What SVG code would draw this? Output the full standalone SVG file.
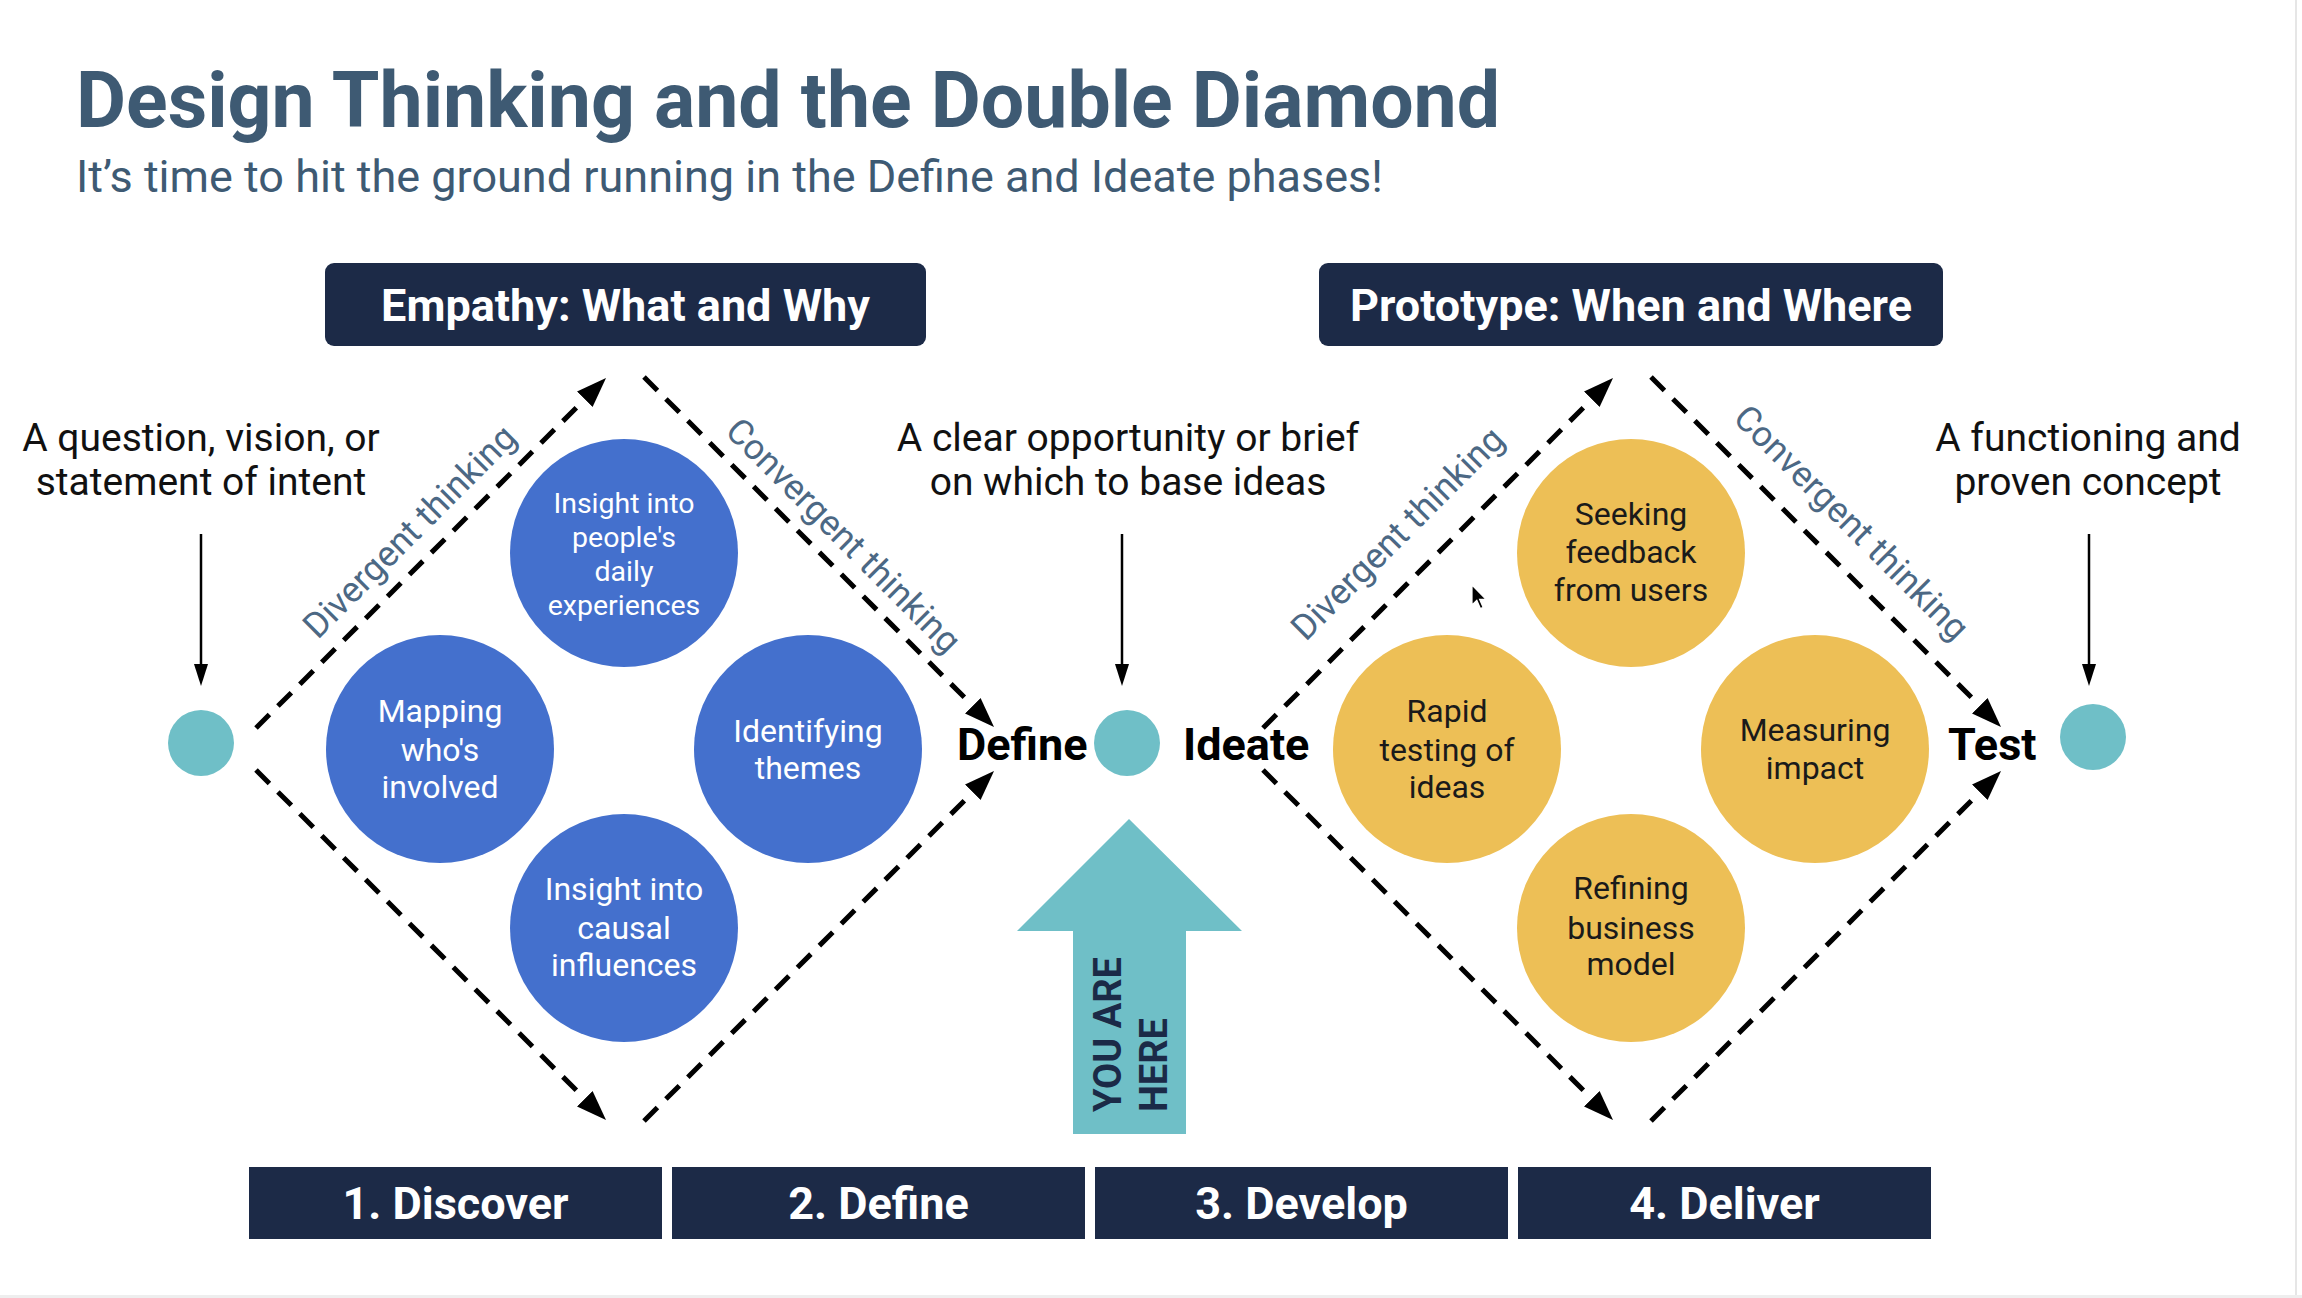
<svg xmlns="http://www.w3.org/2000/svg" width="2302" height="1298" viewBox="0 0 2302 1298">
<style>
  text { font-family: Roboto, "Liberation Sans", Arial, sans-serif; }
  .title { font-size: 77px; font-weight: 700; fill: #3e5a73; }
  .subtitle { font-size: 45px; font-weight: 400; fill: #3e5a73; }
  .hdr { fill: #1c2a47; }
  .hdrtxt { font-size: 45px; font-weight: 700; fill: #ffffff; text-anchor: middle; }
  .note { font-size: 39px; font-weight: 400; fill: #111111; text-anchor: middle; }
  .dash { fill: none; stroke: #000000; stroke-width: 5; stroke-dasharray: 19 12; marker-end: url(#ah); }
  .vline { stroke: #000000; stroke-width: 2.5; marker-end: url(#ahs); }
  .blue { fill: #4470cd; }
  .yellow { fill: #edbf56; }
  .teal { fill: #6fbfc7; }
  .btxt { font-size: 32px; fill: #ffffff; text-anchor: middle; }
  .btxt-s { font-size: 28.5px; fill: #ffffff; text-anchor: middle; }
  .ytxt { font-size: 32px; fill: #1a1a1a; text-anchor: middle; }
  .stage { font-size: 45px; font-weight: 700; fill: #000000; }
  .think { font-size: 35.5px; fill: #4c6884; text-anchor: middle; }
  .here { font-size: 38px; font-weight: 700; fill: #1b2a47; }
</style>
<defs>
  <marker id="ah" markerUnits="userSpaceOnUse" markerWidth="32" markerHeight="24" refX="0" refY="11" orient="auto">
    <path d="M0,0 L30,11 L0,22 z" fill="#000000"/>
  </marker>
  <marker id="ahs" markerUnits="userSpaceOnUse" markerWidth="24" markerHeight="16" refX="0" refY="7" orient="auto">
    <path d="M0,0 L22,7 L0,14 z" fill="#000000"/>
  </marker>
</defs>

<rect x="0" y="0" width="2302" height="1298" fill="#ffffff"/>
<line x1="2296" y1="0" x2="2296" y2="1295" stroke="#e6e6e6" stroke-width="2"/>
<rect x="0" y="1295" width="2302" height="3" fill="#eeeeee"/>

<g id="title">
  <text class="title" x="76" y="127">Design Thinking and the Double Diamond</text>
  <text class="subtitle" x="76" y="192">It’s time to hit the ground running in the Define and Ideate phases!</text>
</g>

<g id="hdr-empathy">
  <rect class="hdr" x="325" y="263" width="601" height="83" rx="9"/>
  <text class="hdrtxt" x="625.5" y="321">Empathy: What and Why</text>
</g>
<g id="hdr-prototype">
  <rect class="hdr" x="1319" y="263" width="624" height="83" rx="9"/>
  <text class="hdrtxt" x="1631" y="321">Prototype: When and Where</text>
</g>

<g id="connectors">
  <line class="dash" x1="256" y1="728" x2="584.8" y2="399.2"/>
  <line class="dash" x1="644" y1="377" x2="972.8" y2="705.8"/>
  <line class="dash" x1="256" y1="770" x2="584.8" y2="1098.8"/>
  <line class="dash" x1="644" y1="1121" x2="972.8" y2="792.2"/>
  <line class="dash" x1="1263" y1="728" x2="1591.8" y2="399.2"/>
  <line class="dash" x1="1651" y1="377" x2="1979.8" y2="705.8"/>
  <line class="dash" x1="1263" y1="770" x2="1591.8" y2="1098.8"/>
  <line class="dash" x1="1651" y1="1121" x2="1979.8" y2="792.2"/>
  <line class="vline" x1="201" y1="534" x2="201" y2="664"/>
  <line class="vline" x1="1122" y1="534" x2="1122" y2="664"/>
  <line class="vline" x1="2089" y1="534" x2="2089" y2="664"/>
</g>

<g id="labels-thinking">
  <text class="think" transform="translate(418,540) rotate(-45)">Divergent thinking</text>
  <text class="think" transform="translate(835,544) rotate(45)">Convergent thinking</text>
  <text class="think" transform="translate(1406,542) rotate(-45)">Divergent thinking</text>
  <text class="think" transform="translate(1843,531) rotate(45)">Convergent thinking</text>
</g>

<g id="note-start">
  <text class="note" x="201" y="451">A question, vision, or</text>
  <text class="note" x="201" y="495">statement of intent</text>
</g>
<g id="note-define">
  <text class="note" x="1128" y="451">A clear opportunity or brief</text>
  <text class="note" x="1128" y="495">on which to base ideas</text>
</g>
<g id="note-end">
  <text class="note" x="2088" y="451">A functioning and</text>
  <text class="note" x="2088" y="495">proven concept</text>
</g>

<g id="dot-start"><circle class="teal" cx="201" cy="743" r="33"/></g>
<g id="dot-define"><circle class="teal" cx="1127" cy="743" r="33"/></g>
<g id="dot-end"><circle class="teal" cx="2093" cy="737" r="33"/></g>

<g id="stage-define"><text class="stage" x="957" y="760">Define</text></g>
<g id="stage-ideate"><text class="stage" x="1183" y="760">Ideate</text></g>
<g id="stage-test"><text class="stage" x="1948" y="760">Test</text></g>

<g id="c-insight-daily">
  <circle class="blue" cx="624" cy="553" r="114"/>
  <text class="btxt-s" x="624" y="513">Insight into</text>
  <text class="btxt-s" x="624" y="547">people's</text>
  <text class="btxt-s" x="624" y="581">daily</text>
  <text class="btxt-s" x="624" y="615">experiences</text>
</g>
<g id="c-mapping">
  <circle class="blue" cx="440" cy="749" r="114"/>
  <text class="btxt" x="440" y="722">Mapping</text>
  <text class="btxt" x="440" y="761">who's</text>
  <text class="btxt" x="440" y="798">involved</text>
</g>
<g id="c-themes">
  <circle class="blue" cx="808" cy="749" r="114"/>
  <text class="btxt" x="808" y="742">Identifying</text>
  <text class="btxt" x="808" y="779">themes</text>
</g>
<g id="c-causal">
  <circle class="blue" cx="624" cy="928" r="114"/>
  <text class="btxt" x="624" y="900">Insight into</text>
  <text class="btxt" x="624" y="939">causal</text>
  <text class="btxt" x="624" y="976">influences</text>
</g>

<g id="c-feedback">
  <circle class="yellow" cx="1631" cy="553" r="114"/>
  <text class="ytxt" x="1631" y="525">Seeking</text>
  <text class="ytxt" x="1631" y="563">feedback</text>
  <text class="ytxt" x="1631" y="601">from users</text>
</g>
<g id="c-rapid">
  <circle class="yellow" cx="1447" cy="749" r="114"/>
  <text class="ytxt" x="1447" y="722">Rapid</text>
  <text class="ytxt" x="1447" y="761">testing of</text>
  <text class="ytxt" x="1447" y="798">ideas</text>
</g>
<g id="c-impact">
  <circle class="yellow" cx="1815" cy="749" r="114"/>
  <text class="ytxt" x="1815" y="741">Measuring</text>
  <text class="ytxt" x="1815" y="779">impact</text>
</g>
<g id="c-business">
  <circle class="yellow" cx="1631" cy="928" r="114"/>
  <text class="ytxt" x="1631" y="899">Refining</text>
  <text class="ytxt" x="1631" y="939">business</text>
  <text class="ytxt" x="1631" y="975">model</text>
</g>

<g id="you-are-here">
  <polygon class="teal" points="1129,819 1242,931 1186,931 1186,1134 1073,1134 1073,931 1017,931"/>
  <text class="here" transform="translate(1121,1112) rotate(-90)">YOU ARE</text>
  <text class="here" transform="translate(1167,1112) rotate(-90)">HERE</text>
</g>

<g id="phase-discover">
  <rect class="hdr" x="249" y="1167" width="413" height="72"/>
  <text class="hdrtxt" x="455.5" y="1219">1. Discover</text>
</g>
<g id="phase-define">
  <rect class="hdr" x="672" y="1167" width="413" height="72"/>
  <text class="hdrtxt" x="878.5" y="1219">2. Define</text>
</g>
<g id="phase-develop">
  <rect class="hdr" x="1095" y="1167" width="413" height="72"/>
  <text class="hdrtxt" x="1301.5" y="1219">3. Develop</text>
</g>
<g id="phase-deliver">
  <rect class="hdr" x="1518" y="1167" width="413" height="72"/>
  <text class="hdrtxt" x="1724.5" y="1219">4. Deliver</text>
</g>

<g id="cursor">
  <path d="M1472,585 L1472,605 L1476.8,600.4 L1480.4,608.6 L1483.2,607.4 L1479.6,599.4 L1486,599.4 z" fill="#000000" stroke="#ffffff" stroke-width="1.2"/>
</g>
</svg>
